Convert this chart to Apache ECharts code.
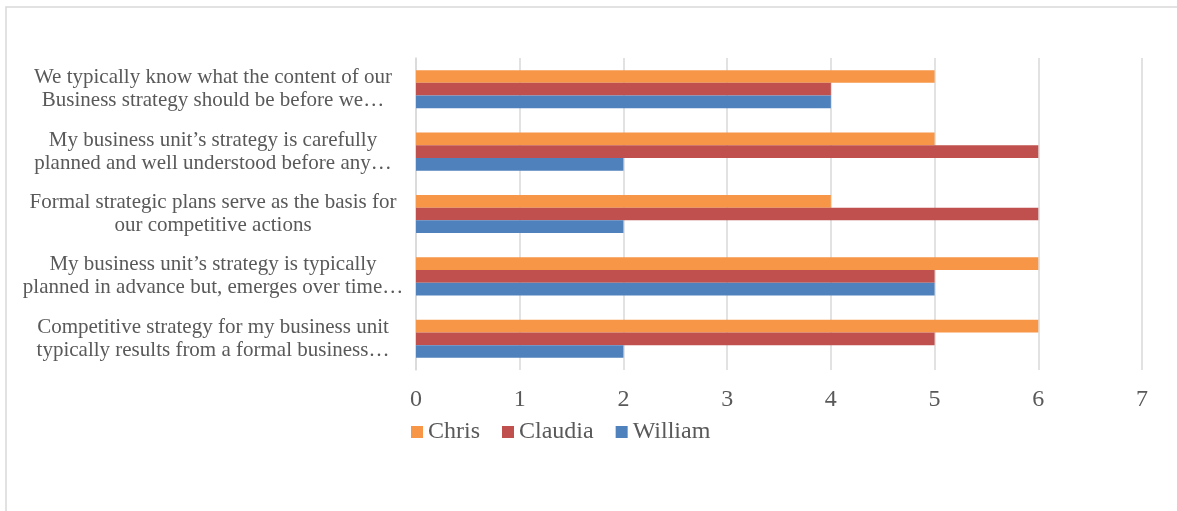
<!DOCTYPE html>
<html>
<head>
<meta charset="utf-8">
<script src="https://cdn.jsdelivr.net/npm/echarts@6/dist/echarts.min.js"></script>
<style>
  html, body { margin: 0; padding: 0; background: #fff; }
  #chart { width: 1177px; height: 511px; }
</style>
</head>
<body>
<div id="chart"></div>
<script>
// categories listed bottom to top (as the category axis draws them)
const categories = [
  'Competitive strategy for my business unit\ntypically results from a formal business…',
  'My business unit\u2019s strategy is typically\nplanned in advance but, emerges over time…',
  'Formal strategic plans serve as the basis for\nour competitive actions',
  'My business unit\u2019s strategy is carefully\nplanned and well understood before any…',
  'We typically know what the content of our\nBusiness strategy should be before we…'
]
const chris = [6, 6, 4, 5, 5]
const claudia = [5, 5, 6, 6, 4]
const william = [2, 5, 2, 2, 4]

const chart = echarts.init(document.getElementById('chart'), null, { renderer: 'canvas' })

function barSeries(name, data, color) {
  return {
    name,
    type: 'bar',
    data,
    barGap: '0%',
    barCategoryGap: '39%',
    itemStyle: { color },
    emphasis: { disabled: true }
  }
}

const option = {
  animation: false,
  backgroundColor: '#fff',
  graphic: [
    {
      type: 'rect',
      shape: { x: 6, y: 7, width: 1200, height: 600 },
      style: { fill: 'none', stroke: '#d9d9d9', lineWidth: 1.5 },
      silent: true
    }
  ],
  grid: {
    left: 416,
    right: 35,
    top: 58,
    bottom: 141
  },
  legend: {
    left: 406,
    top: 415,
    icon: 'rect',
    itemWidth: 12,
    itemHeight: 12,
    itemGap: 22,
    textStyle: {
      fontFamily: 'Liberation Serif',
      fontSize: 24,
      color: '#595959'
    }
  },
  xAxis: {
    type: 'value',
    min: 0,
    max: 7,
    interval: 1,
    axisLine: { show: false },
    axisTick: { show: false },
    splitLine: { lineStyle: { color: '#d9d9d9', width: 1.5 } },
    axisLabel: {
      margin: 18,
      fontFamily: 'Liberation Serif',
      fontSize: 24,
      color: '#595959'
    }
  },
  yAxis: {
    type: 'category',
    data: categories,
    axisLine: { show: true, lineStyle: { color: '#d9d9d9', width: 1.5 } },
    axisTick: { show: false },
    axisLabel: {
      margin: 203,
      align: 'center',
      fontFamily: 'Liberation Serif',
      fontSize: 21,
      lineHeight: 23,
      color: '#595959'
    }
  },
  series: [
    barSeries('Chris', chris, '#F79646'),
    barSeries('Claudia', claudia, '#C0504D'),
    barSeries('William', william, '#4F81BD')
  ]
}

chart.setOption(option)
</script>
</body>
</html>
